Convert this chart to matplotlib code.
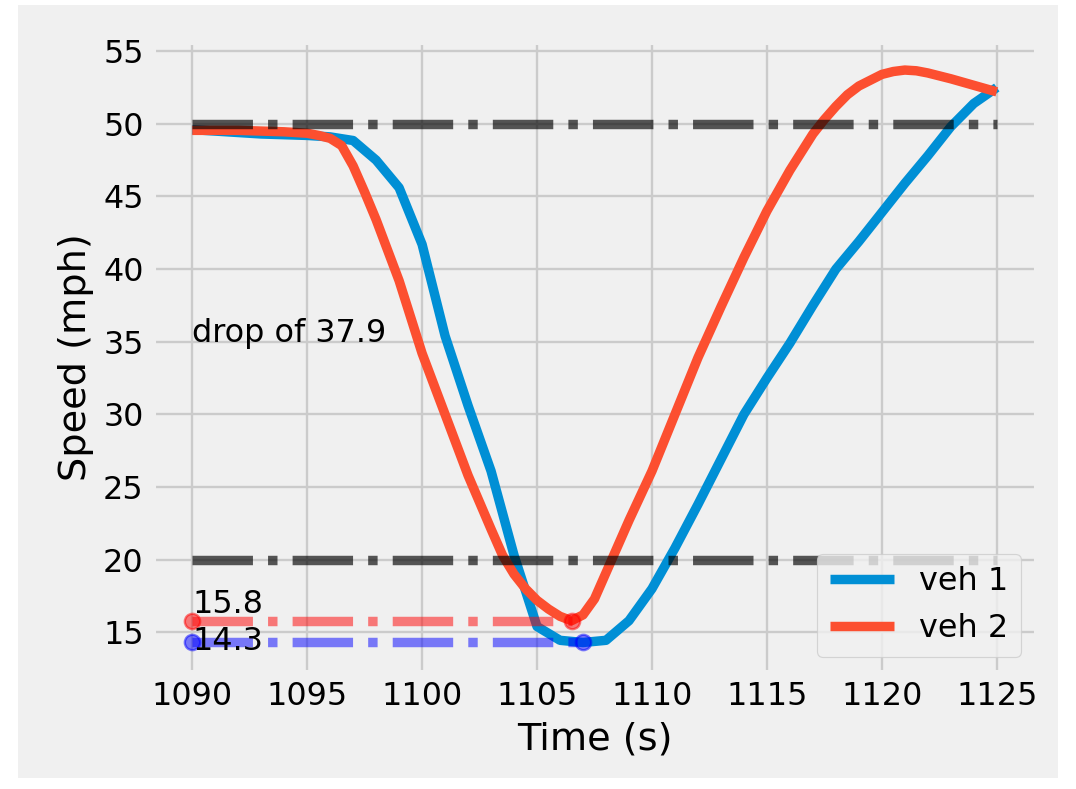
import matplotlib
matplotlib.use("Agg")
import matplotlib.pyplot as plt
from matplotlib.patches import Rectangle

plt.style.use("fivethirtyeight")
plt.rcParams["font.size"] = 13.5

# veh 1 speed (mph), one sample per second
t1 = list(range(1090, 1126))
veh1 = [49.6, 49.5, 49.4, 49.3, 49.25, 49.2, 49.1, 48.85, 47.5, 45.6,
        41.7, 35.4, 30.6, 26.1, 20.3, 15.4, 14.45, 14.3, 14.45, 15.8,
        18.0, 20.8, 23.8, 26.9, 30.0, 32.5, 34.9, 37.5, 40.0, 41.9,
        43.9, 45.9, 47.8, 49.8, 51.4, 52.5]

# veh 2 speed (mph), half second samples
t2 = [1090, 1091, 1092, 1093, 1094, 1095, 1095.5, 1096, 1096.5, 1097,
      1097.5, 1098, 1099, 1100, 1101, 1102, 1103, 1103.5, 1104, 1104.5,
      1105, 1105.5, 1106, 1106.5, 1107, 1107.5, 1108, 1108.5, 1109, 1110,
      1111, 1112, 1113, 1114, 1115, 1116, 1117, 1117.5, 1118, 1118.5,
      1119, 1119.5, 1120, 1120.5, 1121, 1121.5, 1122, 1123, 1124, 1125]
veh2 = [49.55, 49.55, 49.55, 49.5, 49.45, 49.35, 49.2, 49.0, 48.5, 47.1,
        45.3, 43.4, 39.2, 34.2, 30.0, 25.8, 22.1, 20.3, 19.0, 18.0,
        17.2, 16.6, 16.1, 15.8, 16.2, 17.3, 19.1, 20.9, 22.7, 26.1,
        30.0, 33.9, 37.4, 40.8, 44.0, 46.8, 49.3, 50.3, 51.2, 52.0,
        52.6, 53.0, 53.4, 53.6, 53.7, 53.65, 53.5, 53.1, 52.65, 52.2]

min1_t, min1 = 1107, 14.3
min2_t, min2 = 1106.5, 15.8
upper, lower = 50, 20
drop = 37.9

fig = plt.figure(figsize=(1076 / 170, 789 / 170), dpi=170)
fig.patch.set_facecolor("white")
fig.patches.append(Rectangle((18 / 1076, 11 / 789), 1040 / 1076, 773 / 789,
                             transform=fig.transFigure, facecolor="#f0f0f0",
                             edgecolor="none", zorder=-1))
ax = fig.add_axes([152 / 1076, 1 - 673 / 789, 885 / 1076, 632 / 789])

ax.plot(t1, veh1, label="veh 1")
ax.plot(t2, veh2, label="veh 2")

ax.plot([t1[0], t1[-1]], [upper, upper], "k-.", alpha=0.65)
ax.plot([t1[0], t1[-1]], [lower, lower], "k-.", alpha=0.65)

ax.plot([t1[0], min2_t], [min2, min2], "r-.o", alpha=0.5, markersize=6.5)
ax.plot([t1[0], min1_t], [min1, min1], "b-.o", alpha=0.5, markersize=6.5)

ax.text(t1[0], min2 + 0.5, str(min2))
ax.text(t1[0], min1 - 0.5, str(min1))
ax.text(t1[0], 35, "drop of %.1f" % drop)

ax.set_xlim(1088.25, 1126.75)
ax.set_ylim(12.2, 55.7)
ax.set_xticks(range(1090, 1126, 5))
ax.set_yticks(range(15, 56, 5))
ax.set_xlabel("Time (s)")
ax.set_ylabel("Speed (mph)")
ax.legend(loc="lower right")

fig.savefig("out.png", dpi=170, facecolor=fig.get_facecolor())
